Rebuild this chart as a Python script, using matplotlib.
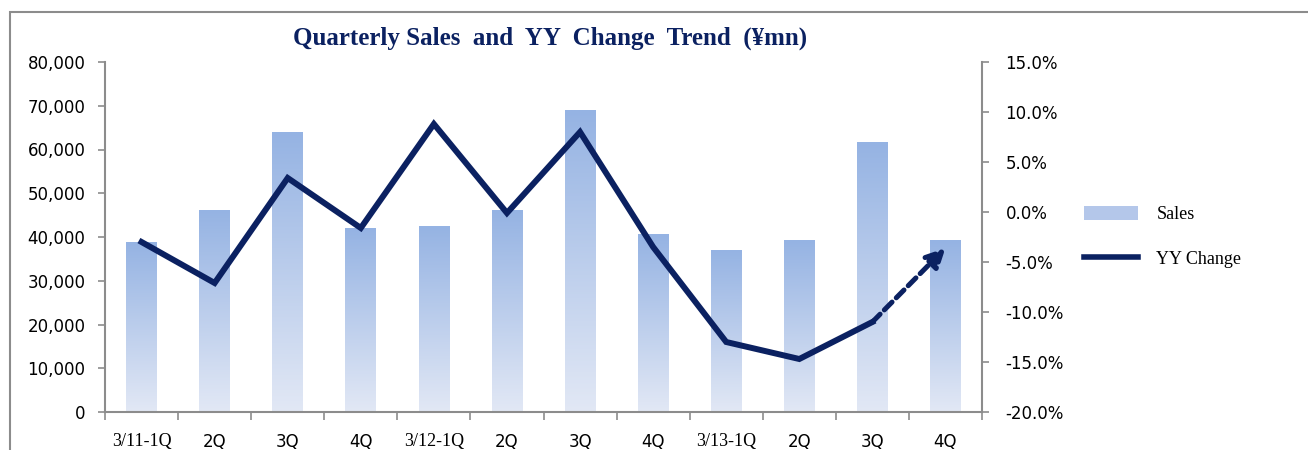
import matplotlib
matplotlib.use('Agg')
import matplotlib.pyplot as plt
import numpy as np
from matplotlib.colors import LinearSegmentedColormap
from matplotlib.patches import Rectangle, Patch
from matplotlib.lines import Line2D
from matplotlib.ticker import FuncFormatter

quarters = ['3/11-1Q', '2Q', '3Q', '4Q', '3/12-1Q', '2Q', '3Q', '4Q',
            '3/13-1Q', '2Q', '3Q', '4Q']
sales = [38700, 46000, 63800, 41900, 42300, 46000, 68800, 40500,
         36900, 39200, 61500, 39200]
# YY change (%) for 3/11-1Q .. 3/13-3Q, 4Q is the forecast (dashed arrow)
yy_change = [-3.0, -7.1, 3.4, -1.6, 8.8, -0.1, 8.0, -3.5, -13.0, -14.7, -11.0]
yy_forecast = -3.6

navy = '#0B2161'
grey = '#8C8C8C'
bar_cmap = LinearSegmentedColormap.from_list('bars', ['#E2E8F5', '#95B3E3'])

fig = plt.figure(figsize=(13.08, 4.5), dpi=100)
ax = fig.add_axes([105 / 1308, 1 - 412 / 450, (982 - 105) / 1308, 350 / 450])

x = np.arange(len(quarters))
bw = 0.42
grad = np.linspace(0, 1, 256).reshape(-1, 1)
for xi, s in zip(x, sales):
    ax.imshow(grad, extent=[xi - bw / 2, xi + bw / 2, 0, s], origin='lower',
              aspect='auto', cmap=bar_cmap, zorder=2)

ax.set_xlim(-0.5, len(quarters) - 0.5)
ax.set_ylim(0, 80000)
ax.set_yticks(np.arange(0, 80001, 10000))
ax.yaxis.set_major_formatter(FuncFormatter(lambda v, p: f'{v:,.0f}'))
ax.set_xticks(x)
ax.set_xticklabels(quarters)
ax.set_xticks(np.arange(-0.5, len(quarters), 1), minor=True)
ax.tick_params(axis='x', which='major', length=0, pad=15, labelsize=12)
ax.tick_params(axis='x', which='minor', length=6, color=grey, width=1.2)
ax.tick_params(axis='y', length=5, color=grey, width=1.2, labelsize=12, pad=9)
for lab in ax.get_xticklabels():
    if '-' in lab.get_text():
        lab.set_family('Liberation Serif')
        lab.set_fontsize(13)

for side in ['left', 'bottom']:
    ax.spines[side].set_color(grey)
    ax.spines[side].set_linewidth(1.5)
ax.spines['top'].set_visible(False)
ax.spines['right'].set_visible(False)

ax2 = ax.twinx()
ax2.plot(x[:len(yy_change)], yy_change, color=navy, lw=4.3,
         solid_joinstyle='miter', zorder=3)
ax2.annotate('', xy=(x[-1], yy_forecast), xytext=(x[len(yy_change) - 1], yy_change[-1]),
             arrowprops=dict(arrowstyle='-|>', color=navy, lw=3.6,
                             linestyle=(0, (2.2, 1.2)), mutation_scale=28,
                             shrinkA=0, shrinkB=0))
ax2.set_ylim(-20, 15)
ax2.set_yticks(np.arange(-20, 15.1, 5))
ax2.yaxis.set_major_formatter(FuncFormatter(lambda v, p: f'{v:.1f}%'))
ax2.tick_params(axis='y', length=5, color=grey, width=1.2, labelsize=12, pad=12)
for side in ['left', 'bottom', 'top']:
    ax2.spines[side].set_visible(False)
ax2.spines['right'].set_color(grey)
ax2.spines['right'].set_linewidth(1.5)

fig.text(550 / 1308, 1 - 38 / 450, 'Quarterly Sales  and  YY  Change  Trend  (\u00a5mn)',
         ha='center', va='center', fontsize=18, fontweight='bold',
         family='Liberation Serif', color=navy)

handles = [Patch(facecolor='#B4C7EA', edgecolor='none'),
           Line2D([], [], color=navy, lw=4)]
fig.legend(handles, ['Sales', 'YY Change'], loc='upper left',
           bbox_to_anchor=(1068 / 1308, 1 - 190 / 450), frameon=False,
           prop={'family': 'Liberation Serif', 'size': 13},
           handlelength=3.0, handleheight=0.8, handletextpad=1.0, labelspacing=1.5)

fig.add_artist(Rectangle((10 / 1308, -0.1), 1.2, 1 - 12 / 450 + 0.1,
                         transform=fig.transFigure, fill=False,
                         edgecolor=grey, lw=1.5))

fig.savefig('out.png', dpi=100)
